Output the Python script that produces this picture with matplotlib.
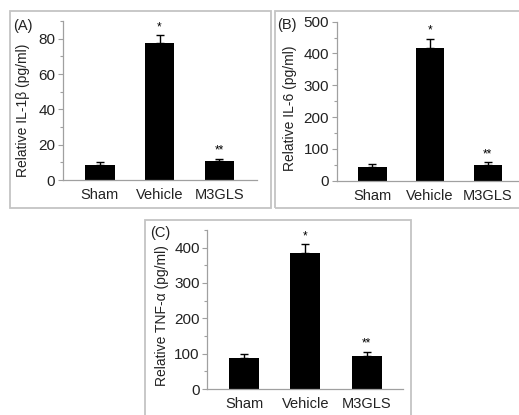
import matplotlib
matplotlib.use("Agg")
import matplotlib.pyplot as plt
from matplotlib.patches import Rectangle
from matplotlib.ticker import MultipleLocator

plt.rcParams['font.family'] = ['Liberation Sans', 'DejaVu Sans']

groups = ["Sham", "Vehicle", "M3GLS"]

il1b_mean = [8.5, 77.5, 10.5]
il1b_err = [1.5, 4.5, 1.5]
il1b_marks = ["", "*", "**"]

il6_mean = [43, 418, 48]
il6_err = [11, 29, 10]
il6_marks = ["", "*", "**"]

tnf_mean = [88, 385, 92]
tnf_err = [11, 24, 13]
tnf_marks = ["", "*", "**"]

W, H = 519, 415
fig = plt.figure(figsize=(W / 100, H / 100), dpi=100)

AXIS_GRAY = '#a0a0a0'
BOX_GRAY = '#c4c4c4'


def px_rect(left, top, right, bottom):
    return [left / W, 1 - bottom / H, (right - left) / W, (bottom - top) / H]


def box(left, top, right, bottom):
    fig.patches.append(Rectangle((left / W, 1 - bottom / H), (right - left) / W,
                                 (bottom - top) / H, transform=fig.transFigure,
                                 fill=False, edgecolor=BOX_GRAY, linewidth=1.3))


def panel(rect, means, errs, marks, ylim, major, minor, xlim, ylabel, label_xy, tag, tag_xy, mark_pad):
    ax = fig.add_axes(px_rect(*rect))
    x = range(len(groups))
    ax.bar(x, means, width=0.49, color='black', zorder=2)
    ax.errorbar(x, means, yerr=[[0] * len(errs), errs], fmt='none', ecolor='black',
                elinewidth=1.0, capsize=3, capthick=1.0, zorder=3)
    for xi, m, e, s in zip(x, means, errs, marks):
        if s:
            ax.text(xi, m + e + mark_pad, s, ha='center', va='bottom', fontsize=8.5)
    ax.set_xlim(*xlim)
    ax.set_ylim(*ylim)
    ax.yaxis.set_major_locator(MultipleLocator(major))
    ax.yaxis.set_minor_locator(MultipleLocator(minor))
    ax.set_xticks(list(x))
    ax.set_xticklabels(groups, fontsize=10.5, color='#222222')
    ax.tick_params(axis='x', length=0, pad=6)
    ax.tick_params(axis='y', which='major', length=3.5, width=0.8, color=AXIS_GRAY,
                   labelsize=11, labelcolor='#222222', pad=2)
    ax.tick_params(axis='y', which='minor', length=2, width=0.8, color=AXIS_GRAY)
    for side in ['top', 'right']:
        ax.spines[side].set_visible(False)
    for side in ['left', 'bottom']:
        ax.spines[side].set_color(AXIS_GRAY)
        ax.spines[side].set_linewidth(0.9)
    ax.patch.set_alpha(0)
    fig.text(label_xy[0] / W, 1 - label_xy[1] / H, ylabel, rotation=90,
             ha='center', va='center', fontsize=10, color='#222222')
    fig.text(tag_xy[0] / W, 1 - tag_xy[1] / H, tag, ha='left', va='center',
             fontsize=10.5, color='#222222')
    return ax


# frames around the three panels
box(10, 11, 270.7, 208.3)
box(275, 11, 530, 208.3)
box(145, 220, 411, 430)

panel((63, 21, 256.7, 180), il1b_mean, il1b_err, il1b_marks, (0, 90), 20, 10,
      (-0.62, 2.63), "Relative IL-1\u03b2 (pg/ml)", (23, 110), "(A)", (13, 26), 1.2)
panel((336.7, 21.7, 519, 180.7), il6_mean, il6_err, il6_marks, (0, 500), 100, 50,
      (-0.62, 2.54), "Relative IL-6 (pg/ml)", (290, 108), "(B)", (277, 25), 7)
panel((207.3, 230, 403.3, 389), tnf_mean, tnf_err, tnf_marks, (0, 450), 100, 50,
      (-0.6, 2.6), "Relative TNF-\u03b1 (pg/ml)", (162, 316), "(C)", (150, 233), 7)

fig.savefig("out.png", dpi=100)
